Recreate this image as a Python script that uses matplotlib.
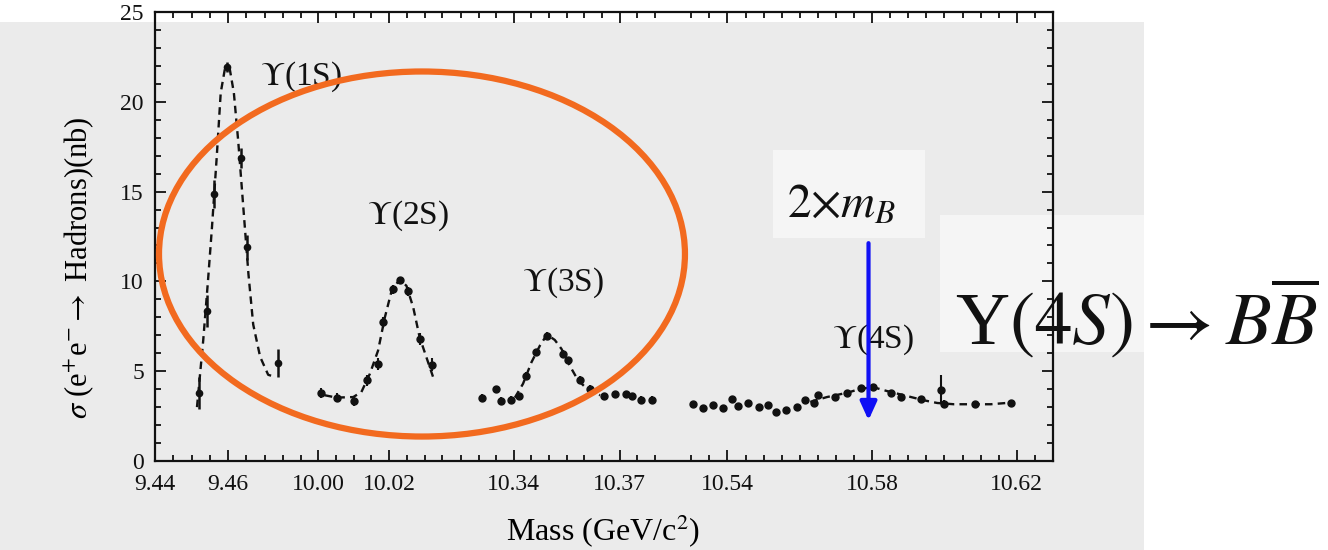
import numpy as np
import matplotlib
matplotlib.use("Agg")
import matplotlib.pyplot as plt
from matplotlib.patches import Ellipse, Rectangle
from matplotlib.ticker import FixedLocator, FixedFormatter, MultipleLocator

# ---------------- data ----------------
# Upsilon(1S) scan
m1 = [9.4521, 9.4543, 9.4562, 9.4598, 9.4635, 9.4651, 9.4738]
s1 = [3.78, 8.37, 14.87, 21.94, 16.86, 11.91, 5.45]
e1 = [0.9, 0.9, 0.8, 0.3, 0.55, 0.7, 0.8]
fit1_m = [9.4515, 9.4532, 9.4545, 9.4556, 9.4569, 9.4580, 9.4592, 9.4605,
          9.4616, 9.4628, 9.4642, 9.4656, 9.4669, 9.4688, 9.4710, 9.4726]
fit1_s = [3.0, 6.7, 10.0, 13.0, 16.9, 20.5, 21.9, 21.8,
          20.5, 17.8, 14.1, 10.4, 7.6, 5.8, 4.8, 4.7]

# Upsilon(2S) scan
m2 = [10.0007, 10.0052, 10.0101, 10.0138, 10.0169, 10.0183, 10.0211,
      10.0232, 10.0254, 10.0286, 10.0322]
s2 = [3.78, 3.51, 3.34, 4.49, 5.41, 7.72, 9.57, 10.07, 9.44, 6.80, 5.37]
e2 = [0.3, 0.25, 0.3, 0.3, 0.35, 0.3, 0.25, 0.2, 0.25, 0.35, 0.35]
fit2_m = [10.0019, 10.0052, 10.0099, 10.0122, 10.0146, 10.0169, 10.0188,
          10.0207, 10.0230, 10.0249, 10.0268, 10.0286, 10.0305, 10.0324]
fit2_s = [3.66, 3.53, 3.56, 3.84, 4.86, 6.15, 7.99, 9.47, 10.12, 9.75,
          8.55, 6.89, 5.78, 4.67]

# Upsilon(3S) scan
m3 = [10.3311, 10.3349, 10.3365, 10.3393, 10.3415, 10.3434, 10.3462, 10.3494,
      10.3538, 10.3554, 10.3587, 10.3617, 10.3655, 10.3686, 10.3719, 10.3736,
      10.3759, 10.3790]
s3 = [3.53, 3.99, 3.34, 3.42, 3.60, 4.76, 6.06, 6.98, 5.96, 5.60, 4.52, 4.03,
      3.60, 3.71, 3.71, 3.60, 3.42, 3.42]
e3 = [0.2] * 18
fit3_m = [10.3403, 10.3426, 10.3450, 10.3474, 10.3494, 10.3516, 10.3535,
          10.3558, 10.3582, 10.3610, 10.3644]
fit3_s = [3.53, 4.30, 5.50, 6.43, 7.04, 6.74, 6.24, 5.32, 4.49, 3.97, 3.66]

# Upsilon(4S) scan
m4 = [10.5306, 10.5332, 10.5360, 10.5387, 10.5412, 10.5430, 10.5458, 10.5486,
      10.5512, 10.5535, 10.5563, 10.5592, 10.5615, 10.5638, 10.5650, 10.5696,
      10.5731, 10.5768, 10.5803, 10.5853, 10.5880, 10.5936, 10.5991, 10.5998,
      10.6083, 10.6183]
s4 = [3.16, 2.97, 3.10, 2.97, 3.47, 3.05, 3.23, 3.01, 3.10, 2.73, 2.83, 3.01,
      3.38, 3.23, 3.66, 3.56, 3.80, 4.08, 4.12, 3.80, 3.56, 3.47, 3.97, 3.20,
      3.16, 3.25]
e4 = [0.15] * 22 + [0.8, 0.2, 0.15, 0.15]
fit4_m = [10.5629, 10.5675, 10.5731, 10.5768, 10.5803, 10.5842, 10.5888,
          10.5943, 10.5980, 10.6026, 10.6072, 10.6128, 10.6183]
fit4_s = [3.29, 3.56, 3.80, 4.02, 4.11, 3.89, 3.66, 3.38, 3.23, 3.16, 3.16,
          3.16, 3.25]

major_ticks = [9.44, 9.46, 10.00, 10.02, 10.34, 10.37, 10.54, 10.58, 10.62]
major_labels = ["9.44", "9.46", "10.00", "10.02", "10.34", "10.37",
                "10.54", "10.58", "10.62"]
peak_labels = [r"$\Upsilon$(1S)", r"$\Upsilon$(2S)", r"$\Upsilon$(3S)", r"$\Upsilon$(4S)"]
two_mB = 10.579

# ---------------- broken (compressed) mass axis ----------------
MASS_ANCH = [9.44, 9.4798, 9.9952, 10.0376, 10.3226, 10.3848, 10.5252, 10.6300]
POS_ANCH = [155.0, 300.3, 301.0, 451.6, 452.4, 672.0, 673.9, 1053.0]


def fwd(m):
    return np.interp(m, MASS_ANCH, POS_ANCH)


def inv(p):
    return np.interp(p, POS_ANCH, MASS_ANCH)


minor_ticks = []
for lo, hi in [(9.44, 9.4798), (9.995, 10.0376), (10.325, 10.3848), (10.53, 10.6300)]:
    v = lo
    while v <= hi + 1e-9:
        minor_ticks.append(round(v, 3))
        v += 0.005

# ---------------- style ----------------
plt.rcParams["font.family"] = ["Liberation Serif", "DejaVu Serif"]
plt.rcParams["mathtext.fontset"] = "stix"

PAGE = "#ebebeb"
W, H = 1328, 550
fig = plt.figure(figsize=(W / 100, H / 100), dpi=100, facecolor=PAGE)

# page background pieces
for (x0, y0, x1, y1, c) in [(0, 0, W, 22, "#ffffff"), (1144, 0, W, H, "#ffffff"),
                            (773, 150, 925, 238, "#f5f5f5"),
                            (940, 215, 1144, 352, "#f5f5f5")]:
    fig.patches.append(Rectangle((x0 / W, 1 - y1 / H), (x1 - x0) / W, (y1 - y0) / H,
                                 transform=fig.transFigure, color=c, zorder=-5, lw=0))

ax = fig.add_axes([155 / W, 1 - 461 / H, (1053 - 155) / W, (461 - 12) / H])
ax.set_facecolor("none")
ax.set_xscale("function", functions=(fwd, inv))
ax.set_xlim(9.44, 10.63)
ax.set_ylim(0, 25)

ink = "#111111"
dash = (0, (3.2, 2.2))
for fm, fs in [(fit1_m, fit1_s), (fit2_m, fit2_s), (fit3_m, fit3_s), (fit4_m, fit4_s)]:
    ax.plot(fm, fs, color=ink, ls=dash, lw=1.7, zorder=3)

ax.errorbar(m1, s1, yerr=e1, fmt="o", ms=4.5, color=ink, elinewidth=1.8, capsize=0, zorder=4)
for mm, ss, ee in [(m2, s2, e2), (m3, s3, e3), (m4, s4, e4)]:
    ax.errorbar(mm, ss, yerr=ee, fmt="o", ms=5, color=ink, elinewidth=1.5, capsize=0, zorder=4)

ax.xaxis.set_major_locator(FixedLocator(major_ticks))
ax.xaxis.set_major_formatter(FixedFormatter(major_labels))
ax.xaxis.set_minor_locator(FixedLocator(minor_ticks))
ax.yaxis.set_major_locator(MultipleLocator(5))
ax.yaxis.set_minor_locator(MultipleLocator(1))
ax.tick_params(which="both", direction="in", top=True, right=True, colors=ink, width=1.3)
ax.tick_params(which="major", length=8)
ax.tick_params(which="minor", length=4)
ax.tick_params(axis="x", which="major", labelsize=17, pad=9)
ax.tick_params(axis="y", which="major", labelsize=17, pad=8)
for sp in ax.spines.values():
    sp.set_linewidth(1.6)
    sp.set_color(ink)

ax.set_ylabel(r"$\sigma$ (e$^{+}$e$^{-}$$\rightarrow$ Hadrons)(nb)", fontsize=22)
ax.yaxis.set_label_coords(-0.066, 0.43)
ax.set_xlabel(r"Mass (GeV/c$^{2}$)", fontsize=23)
ax.xaxis.set_label_coords(0.499, -0.115)

# peak labels
for lab, (xf, yf) in zip(peak_labels, [(0.117, 0.855), (0.236, 0.546),
                                       (0.409, 0.396), (0.754, 0.269)]):
    ax.text(xf, yf, lab, transform=ax.transAxes, fontsize=24, ha="left", va="center",
            color=ink, zorder=6)

# highlight ellipse
ax.add_patch(Ellipse((0.2973, 0.461), 0.5857, 0.813, transform=ax.transAxes,
                     fill=False, ec="#F26A1F", lw=4.5, clip_on=False, zorder=7))

# 2 m_B arrow
ax.annotate("", xy=(two_mB, 2.27), xytext=(two_mB, 12.13),
            arrowprops=dict(arrowstyle="-|>,head_length=0.55,head_width=0.25",
                            color="#1010f5", lw=3, mutation_scale=20,
                            shrinkA=0, shrinkB=0), zorder=8)

fig.text(787 / W, 1 - 218 / H, r"$2{\times}m_B$", fontsize=34, ha="left",
         va="baseline", color=ink)
fig.text(955 / W, 1 - 345 / H, "\u03a5" + r"$(4S)\rightarrow B\overline{B}$",
         fontsize=54, ha="left", va="baseline", color=ink)

fig.savefig("out.png", dpi=100, facecolor=fig.get_facecolor())
